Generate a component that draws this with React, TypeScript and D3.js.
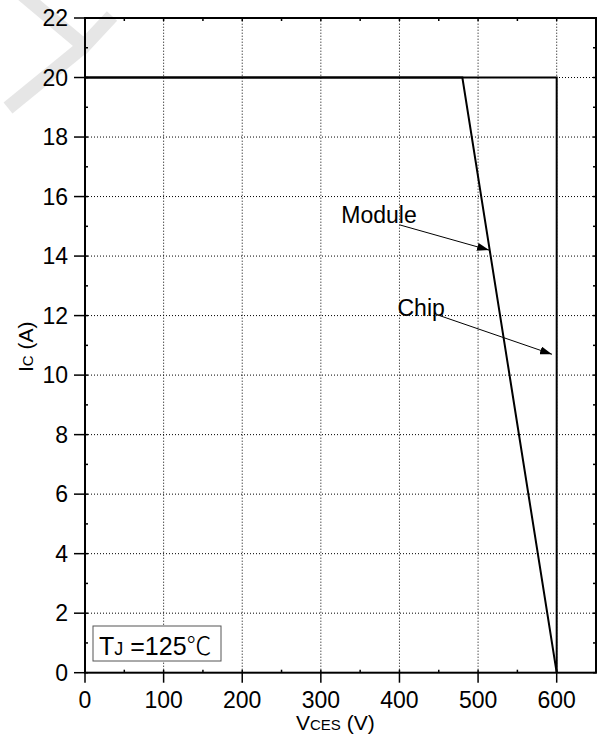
import React from 'react';
import * as d3 from 'd3';

// curves (VCES in V, IC in A)
const chipV = [0, 600, 600];
const chipI = [20, 20, 0];
const moduleV = [0, 480, 600];
const moduleI = [20, 20, 0];

const xTicks = [0, 100, 200, 300, 400, 500, 600];
const xMinor = [50, 150, 250, 350, 450, 550, 650];
const yTicks = [0, 2, 4, 6, 8, 10, 12, 14, 16, 18, 20, 22];
const yMinor = [1, 3, 5, 7, 9, 11, 13, 15, 17, 19, 21];

const labels = ['Module', 'Chip'];
const labelAt = [
  [326, 15.1],
  [397.5, 12.0],
];
const arrowFrom = [
  [400, 15.05],
  [451, 12.0],
];
const arrowTo = [
  [514, 14.2],
  [594, 10.7],
];

const W = 597;
const H = 741;
const margin = { top: 18, right: 0, bottom: 68, left: 85 };
const font = '"Liberation Sans", Arial, sans-serif';

export default function App() {
  const x = d3.scaleLinear().domain([0, 650]).range([margin.left, 596]);
  const y = d3.scaleLinear().domain([0, 22]).range([672.7, margin.top]);

  const line = d3
    .line<[number, number]>()
    .x((d) => x(d[0]))
    .y((d) => y(d[1]));

  const chip = chipV.map((v, i) => [v, chipI[i]] as [number, number]);
  const module = moduleV.map((v, i) => [v, moduleI[i]] as [number, number]);

  const x0 = x(0);
  const x1 = x(650);
  const y0 = y(0);
  const y1 = y(22);

  return (
    <svg
      width={W}
      height={H}
      style={{ position: 'absolute', left: 0, top: 0, background: '#fff' }}
      fontFamily={font}
    >
      <defs>
        <marker id="head" viewBox="0 0 12 8" refX="12" refY="4" markerWidth="12" markerHeight="8" markerUnits="userSpaceOnUse" orient="auto">
          <path d="M0,0 L12,4 L0,8 Z" fill="#000" />
        </marker>
      </defs>

      {/* watermark */}
      <g stroke="#e6e6e6" strokeWidth={14} fill="none" strokeLinecap="butt">
        <path d="M22,-6 L84,46 L112,16" />
        <path d="M84,46 L8,108" />
      </g>

      {/* grid */}
      <g stroke="#000" strokeWidth={1} strokeDasharray="1,2">
        {xTicks.slice(1).map((t) => (
          <line key={'gx' + t} x1={x(t)} x2={x(t)} y1={y0} y2={y1} />
        ))}
        {yTicks.slice(1, -1).map((t) => (
          <line key={'gy' + t} x1={x0} x2={x1} y1={y(t)} y2={y(t)} />
        ))}
      </g>

      {/* ticks */}
      <g stroke="#000" strokeWidth={1.5}>
        {xTicks.map((t) => (
          <line key={'tx' + t} x1={x(t)} x2={x(t)} y1={y0} y2={y0 + 10} />
        ))}
        {yTicks.map((t) => (
          <line key={'ty' + t} x1={x0 - 11} x2={x0} y1={y(t)} y2={y(t)} />
        ))}
        {xTicks.concat(xMinor).map((t) => (
          <React.Fragment key={'ix' + t}>
            <line x1={x(t)} x2={x(t)} y1={y0} y2={y0 - 3} />
            <line x1={x(t)} x2={x(t)} y1={y1} y2={y1 + 3} />
          </React.Fragment>
        ))}
        {yTicks.concat(yMinor).map((t) => (
          <React.Fragment key={'iy' + t}>
            <line x1={x0} x2={x0 + 3} y1={y(t)} y2={y(t)} />
            <line x1={x1} x2={x1 - 3} y1={y(t)} y2={y(t)} />
          </React.Fragment>
        ))}
      </g>

      {/* frame */}
      <rect x={x0} y={y1} width={x1 - x0} height={y0 - y1} fill="none" stroke="#000" strokeWidth={2} />

      {/* curves */}
      <path d={line(chip) || ''} fill="none" stroke="#000" strokeWidth={2} />
      <path d={line(module) || ''} fill="none" stroke="#000" strokeWidth={2} />

      {/* tick labels */}
      <g fontSize={23} fill="#000">
        {xTicks.map((t) => (
          <text key={'lx' + t} x={x(t)} y={708} textAnchor="middle">
            {t}
          </text>
        ))}
        {yTicks.map((t) => (
          <text key={'ly' + t} x={68} y={y(t) + 8} textAnchor="end">
            {t}
          </text>
        ))}
      </g>

      {/* axis titles */}
      <text x={296} y={730} fontSize={21}>
        V<tspan fontSize={15}>CES</tspan> (V)
      </text>
      <text transform="translate(33,372) rotate(-90)" fontSize={21}>
        I<tspan fontSize={15}>C</tspan> (A)
      </text>

      {/* annotations */}
      {labels.map((l, i) => (
        <g key={l}>
          <text x={x(labelAt[i][0])} y={y(labelAt[i][1])} fontSize={23}>
            {l}
          </text>
          <line
            x1={x(arrowFrom[i][0])}
            y1={y(arrowFrom[i][1])}
            x2={x(arrowTo[i][0])}
            y2={y(arrowTo[i][1])}
            stroke="#000"
            strokeWidth={1}
            markerEnd="url(#head)"
          />
        </g>
      ))}

      {/* temperature box */}
      <rect x={93} y={626} width={128} height={35} fill="#fff" stroke="#555" strokeWidth={1} />
      <text x={99} y={655} fontSize={25}>
        T<tspan fontSize={18}>J</tspan> =125
        <tspan fontFamily='"Noto Sans CJK SC", sans-serif' fontWeight={300} fontSize={25}>℃</tspan>
      </text>
    </svg>
  );
}
